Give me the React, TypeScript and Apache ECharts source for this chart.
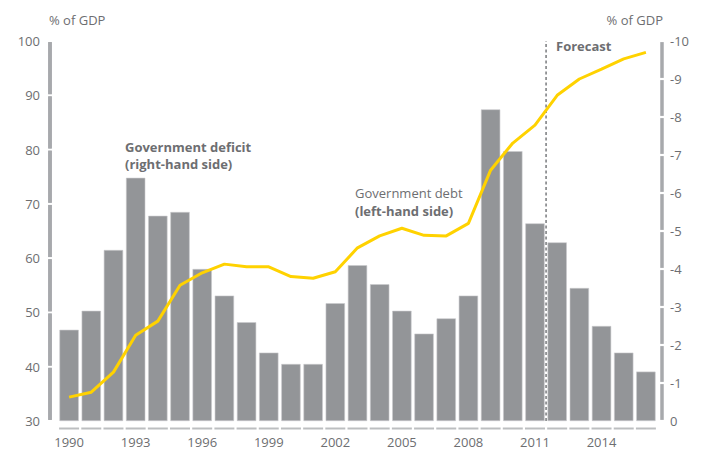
import React, { useEffect, useRef } from "react";
import * as echarts from "echarts";

const years = [
  "1990", "1991", "1992", "1993", "1994", "1995", "1996", "1997", "1998",
  "1999", "2000", "2001", "2002", "2003", "2004", "2005", "2006", "2007",
  "2008", "2009", "2010", "2011", "2012", "2013", "2014", "2015", "2016",
];
// Government debt, % of GDP (left-hand side)
const debt = [
  34.4, 35.3, 39.0, 45.8, 48.4, 55.0, 57.3, 58.9, 58.4, 58.4, 56.6, 56.3, 57.5,
  61.9, 64.1, 65.5, 64.2, 64.1, 66.4, 76.2, 81.2, 84.5, 90.0, 93.0, 94.8, 96.7, 97.9,
];
// Government deficit, % of GDP (right-hand side)
const deficit = [
  -2.4, -2.9, -4.5, -6.4, -5.4, -5.5, -4.0, -3.3, -2.6, -1.8, -1.5, -1.5, -3.1,
  -4.1, -3.6, -2.9, -2.3, -2.7, -3.3, -8.2, -7.1, -5.2, -4.7, -3.5, -2.5, -1.8, -1.3,
];
const forecastBoundary = 21.5; // between 2011 and 2012
const leftMin = 30;
const leftMax = 100;
const leftStep = 10;
const rightMin = -10;
const rightMax = 0;
const rightStep = 1;

const FONT = '"Open Sans", "Noto Sans", sans-serif';
const TEXT = "#6d6e71";
const AXIS_GRAY = "#a7a9ac";
const X_AXIS_GRAY = "#bcbec0";

function range(a: number, b: number, s: number) {
  const out: number[] = [];
  for (let v = a; v < b - 1e-9; v += s) out.push(v);
  return out;
}

export default function App() {
  const ref = useRef<HTMLDivElement>(null);
  useEffect(() => {
    if (!ref.current) return;
    const chart = echarts.init(ref.current, undefined, { renderer: "svg" });
    const gap = 2.2;
    const leftOffset = 8;
    const rightOffset = 5;
    const bottomOffset = 7.5;

    chart.setOption({
      animation: false,
      grid: { left: 58, right: 45, top: 41, bottom: 29 },
      xAxis: [
        {
          type: "category",
          data: years,
          boundaryGap: true,
          offset: bottomOffset,
          axisLine: { show: false, onZero: false },
          axisTick: { show: false },
          axisLabel: { interval: 2, margin: 7, fontSize: 13, color: TEXT, fontFamily: FONT },
          splitLine: { show: false },
        },
        {
          type: "value",
          show: false,
          min: -0.5,
          max: years.length - 0.5,
          axisLine: { onZero: false },
          splitLine: { show: false },
        },
      ],
      yAxis: [
        {
          type: "value",
          position: "left",
          min: leftMin,
          max: leftMax,
          interval: leftStep,
          offset: leftOffset,
          axisLine: { show: false, onZero: false },
          axisTick: { show: false },
          axisLabel: { margin: 10, fontSize: 13, color: TEXT, fontFamily: FONT },
          splitLine: { show: false },
        },
        {
          type: "value",
          position: "right",
          min: rightMin,
          max: rightMax,
          interval: rightStep,
          inverse: true,
          offset: rightOffset,
          axisLine: { show: false, onZero: false },
          axisTick: { show: false },
          axisLabel: { margin: 8, fontSize: 13, color: TEXT, fontFamily: FONT },
          splitLine: { show: false },
        },
      ],
      series: [
        {
          name: "Government deficit",
          type: "bar",
          xAxisIndex: 0,
          yAxisIndex: 1,
          data: deficit,
          barCategoryGap: "13%",
          itemStyle: { color: "#939598", borderColor: "#c9cacc", borderWidth: 0.6 },
          silent: true,
        },
        {
          name: "Forecast",
          type: "line",
          xAxisIndex: 1,
          yAxisIndex: 0,
          data: [
            [forecastBoundary, leftMin],
            [forecastBoundary, leftMax],
          ],
          symbol: "none",
          lineStyle: { color: "#808285", width: 1.6, type: [3, 2.5] },
          silent: true,
          z: 3,
        },
        {
          name: "Government debt",
          type: "line",
          xAxisIndex: 0,
          yAxisIndex: 0,
          data: debt,
          symbol: "none",
          lineStyle: { color: "#ffd200", width: 3 },
          silent: true,
          z: 4,
        },
      ],
    });

    // Axis decorations (segmented axis bars) positioned through the chart's scales
    const c0 = chart.convertToPixel({ xAxisIndex: 0 }, years[0]) as number;
    const c1 = chart.convertToPixel({ xAxisIndex: 0 }, years[1]) as number;
    const step = c1 - c0;
    const xLeft = c0 - step / 2;
    const xRight = c0 + step * (years.length - 0.5);
    const yTop = chart.convertToPixel({ yAxisIndex: 1 }, rightMin) as number;
    const yBottom = chart.convertToPixel({ yAxisIndex: 1 }, rightMax) as number;
    const leftY = (v: number) => yBottom + ((v - leftMin) / (leftMax - leftMin)) * (yTop - yBottom);
    const leftX = xLeft - leftOffset;

    const els: any[] = [];
    range(leftMin, leftMax, leftStep).forEach((v) => {
      const a = leftY(v);
      const b = leftY(v + leftStep);
      const y1 = Math.min(a, b) + gap / 2;
      const y2 = Math.max(a, b) - gap / 2;
      els.push({
        type: "line",
        z: 100,
        silent: true,
        shape: { x1: leftX, y1, x2: leftX, y2 },
        style: { stroke: AXIS_GRAY, lineWidth: 3.6 },
      });
      els.push({
        type: "rect",
        z: 100,
        silent: true,
        shape: { x: leftX - 1.8, y: y1, width: 3.6, height: y2 - y1 },
        style: { fill: AXIS_GRAY },
      });
    });
    range(rightMin, rightMax, rightStep).forEach((v) => {
      const a = chart.convertToPixel({ yAxisIndex: 1 }, v) as number;
      const b = chart.convertToPixel({ yAxisIndex: 1 }, v + rightStep) as number;
      els.push({
        type: "rect",
        z: 100,
        silent: true,
        shape: { x: xRight + rightOffset - 1.75, y: Math.min(a, b) + gap / 2, width: 3.5, height: Math.abs(a - b) - gap },
        style: { fill: AXIS_GRAY },
      });
    });
    years.forEach((_, i) => {
      const a = xLeft + i * step;
      els.push({
        type: "rect",
        z: 100,
        silent: true,
        shape: { x: a + gap / 2, y: yBottom + bottomOffset - 1, width: step - gap, height: 2 },
        style: { fill: X_AXIS_GRAY },
      });
    });

    const texts = [
      { x: 49, y: 20, text: "% of GDP", bold: false, align: "left" },
      { x: 663, y: 20, text: "% of GDP", bold: false, align: "right" },
      { x: 556, y: 46, text: "Forecast", bold: true, align: "left" },
      { x: 125, y: 147, text: "Government deficit", bold: true, align: "left" },
      { x: 125, y: 164, text: "(right-hand side)", bold: true, align: "left" },
      { x: 355, y: 193, text: "Government debt", bold: false, align: "left" },
      { x: 355, y: 211, text: "(left-hand side)", bold: true, align: "left" },
    ].map((t) => ({
      type: "text",
      x: t.x,
      y: t.y,
      z: 100,
      silent: true,
      style: {
        text: t.text,
        fontSize: 13,
        fontWeight: t.bold ? "bold" : "normal",
        fontFamily: FONT,
        fill: TEXT,
        verticalAlign: "middle",
        align: t.align,
      },
    }));

    chart.setOption({ graphic: [...els, ...texts] });

    return () => chart.dispose();
  }, []);
  return <div ref={ref} style={{ width: 702, height: 450, position: "absolute", left: 0, top: 0 }} />;
}
